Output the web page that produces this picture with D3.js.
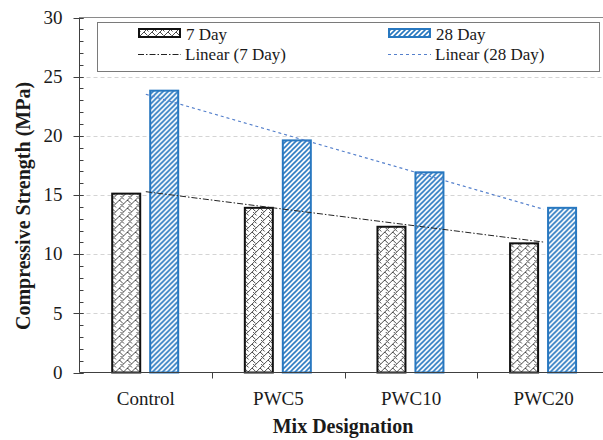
<!DOCTYPE html>
<html><head><meta charset="utf-8">
<script src="https://cdn.jsdelivr.net/npm/d3@7"></script>
<style>body{margin:0;background:#fff}svg{display:block}text{font-family:"Liberation Serif","Times New Roman",serif;fill:#1a1a1a}</style>
</head><body><svg id="c" width="603" height="440"></svg>
<script>
const categories = ["Control", "PWC5", "PWC10", "PWC20"];
const seriesNames = ["7 Day", "28 Day"];
const day7 = [15.2, 14.0, 12.4, 11.0];
const day28 = [23.9, 19.7, 17.0, 14.0];
const yTicks = [0, 5, 10, 15, 20, 25, 30];
const legendLabels = ["7 Day", "28 Day", "Linear (7 Day)", "Linear (28 Day)"];

(function(){
const svg = d3.select("#c");
const blue = "#2878C0";
const pL = 79.5, pR = 610, pT = 17.5, pB = 372.5;

const defs = svg.append("defs");
const p7 = defs.append("pattern").attr("id","pat7").attr("patternUnits","userSpaceOnUse").attr("width",8).attr("height",8);
p7.append("rect").attr("width",8).attr("height",8).attr("fill","#fff");
p7.append("path").attr("d","M-1,9 L9,-1 M-1,1 L1,-1 M7,9 L9,7 M0,0 L3.5,3.5 M1,4 L4.5,7.5")
  .attr("stroke","#4a4a4a").attr("stroke-width",1).attr("fill","none");
const p28 = defs.append("pattern").attr("id","pat28").attr("patternUnits","userSpaceOnUse").attr("width",5).attr("height",5);
p28.append("rect").attr("width",5).attr("height",5).attr("fill","#fff");
p28.append("path").attr("d","M-1,1 L1,-1 M0,5 L5,0 M4,6 L6,4").attr("stroke",blue).attr("stroke-width",1.6).attr("fill","none");

const x = d3.scaleBand().domain(categories).range([pL, pR]).padding(0);
const xs = d3.scaleBand().domain(seriesNames).range([31.7, 99.7]).paddingInner(0.21).paddingOuter(0);
const y = d3.scaleLinear().domain([0, 30]).range([pB, pT]);

svg.append("g").selectAll("line").data(yTicks.filter(t => t > 0 && t < 30)).join("line")
  .attr("x1", pL).attr("x2", 603).attr("y1", d => Math.round(y(d)) + 0.5).attr("y2", d => Math.round(y(d)) + 0.5)
  .attr("stroke", "#d4d4d4").attr("stroke-width", 1).attr("stroke-dasharray", "4,3");
svg.append("line").attr("x1", pL).attr("x2", 603).attr("y1", pT).attr("y2", pT).attr("stroke", "#8a8a8a");

const data = categories.map((c, i) => ({c, vals: [{s: "7 Day", v: day7[i]}, {s: "28 Day", v: day28[i]}]}));
const g = svg.append("g").selectAll("g").data(data).join("g").attr("transform", d => `translate(${x(d.c)},0)`);
g.selectAll("rect").data(d => d.vals).join("rect")
  .attr("x", d => xs(d.s) + 1).attr("width", xs.bandwidth() - 2)
  .attr("y", d => y(d.v) + 1).attr("height", d => pB - y(d.v) - 1)
  .attr("fill", d => d.s === "7 Day" ? "url(#pat7)" : "url(#pat28)")
  .attr("stroke", d => d.s === "7 Day" ? "#111" : blue).attr("stroke-width", 2);

function fit(vals) {
  const xsV = vals.map((_, i) => i + 1);
  const mx = d3.mean(xsV), my = d3.mean(vals);
  const b = d3.sum(xsV.map((xv, i) => (xv - mx) * (vals[i] - my))) / d3.sum(xsV.map(xv => (xv - mx) ** 2));
  return xsV.map(xv => my + b * (xv - mx));
}
const line = d3.line().x((d, i) => x(categories[i]) + x.bandwidth() / 2).y(d => y(d));
svg.append("path").attr("d", line(fit(day7))).attr("fill", "none").attr("stroke", "#222").attr("stroke-width", 1).attr("stroke-dasharray", "6,2,1.5,2");
svg.append("path").attr("d", line(fit(day28))).attr("fill", "none").attr("stroke", "#5580cc").attr("stroke-width", 1.2).attr("stroke-dasharray", "3,3");

const ya = svg.append("g");
ya.append("line").attr("x1", pL).attr("x2", pL).attr("y1", pT).attr("y2", pB).attr("stroke", "#404040");
ya.selectAll(".mn").data(d3.range(0, 31)).join("line").attr("class","mn")
  .attr("x1", pL).attr("x2", pL + 4).attr("y1", d => Math.round(y(d)) + 0.5).attr("y2", d => Math.round(y(d)) + 0.5).attr("stroke", "#404040");
ya.selectAll(".mj").data(yTicks).join("line").attr("class","mj")
  .attr("x1", pL - 6).attr("x2", pL + 4).attr("y1", d => Math.round(y(d)) + 0.5).attr("y2", d => Math.round(y(d)) + 0.5).attr("stroke", "#404040");
ya.selectAll("text").data(yTicks).join("text")
  .attr("x", pL - 17).attr("y", d => y(d)).attr("dy", "0.33em").attr("text-anchor", "end")
  .attr("font-size", 19).text(d => d);

const xa = svg.append("g");
xa.append("line").attr("x1", pL).attr("x2", 603).attr("y1", pB).attr("y2", pB).attr("stroke", "#404040");
xa.selectAll("line.t").data(categories.slice(1)).join("line").attr("class","t")
  .attr("x1", d => Math.round(x(d)) + 0.5).attr("x2", d => Math.round(x(d)) + 0.5).attr("y1", pB).attr("y2", pB + 6).attr("stroke", "#404040");
xa.selectAll("text").data(categories).join("text")
  .attr("x", d => x(d) + x.bandwidth() / 2).attr("y", 405).attr("text-anchor", "middle").attr("font-size", 19).text(d => d);

svg.append("text").attr("x", 343).attr("y", 433).attr("text-anchor", "middle").attr("font-size", 20).attr("font-weight", "bold").text("Mix Designation");
svg.append("text").attr("transform", "translate(30,206) rotate(-90)").attr("text-anchor", "middle").attr("font-size", 20).attr("font-weight", "bold").text("Compressive Strength (MPa)");

const lg = svg.append("g");
lg.append("rect").attr("x", 97.5).attr("y", 22.5).attr("width", 502).attr("height", 49).attr("fill", "#fff").attr("stroke", "#7a7a7a");
const items = [
  {t: legendLabels[0], x: 138, y: 28, kind: "bar", fill: "url(#pat7)", stroke: "#111"},
  {t: legendLabels[1], x: 388, y: 28, kind: "bar", fill: "url(#pat28)", stroke: blue},
  {t: legendLabels[2], x: 138, y: 54, kind: "line", stroke: "#222", dash: "6,2,1.5,2"},
  {t: legendLabels[3], x: 388, y: 54, kind: "line", stroke: "#5580cc", dash: "3,3"}
];
items.forEach(it => {
  if (it.kind === "bar") {
    lg.append("rect").attr("x", it.x + 1).attr("y", it.y + 1).attr("width", 41).attr("height", 8).attr("fill", it.fill).attr("stroke", it.stroke).attr("stroke-width", 2);
    lg.append("text").attr("x", it.x + 48).attr("y", it.y + 12).attr("font-size", 17).text(it.t);
  } else {
    lg.append("line").attr("x1", it.x).attr("x2", it.x + 43).attr("y1", it.y + 0.5).attr("y2", it.y + 0.5).attr("stroke", it.stroke).attr("stroke-dasharray", it.dash);
    lg.append("text").attr("x", it.x + 47).attr("y", it.y + 6).attr("font-size", 17).text(it.t);
  }
});
})();
</script></body></html>
